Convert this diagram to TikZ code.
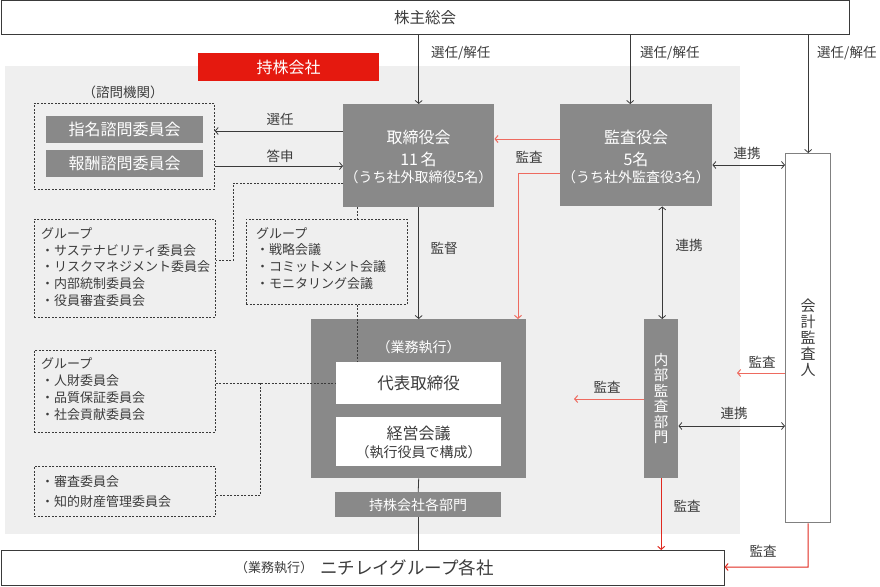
\documentclass[tikz,border=0pt]{standalone}
\usepackage{fontspec}
\setmainfont{Noto Sans CJK JP}
\usetikzlibrary{arrows.meta,calc}
\definecolor{boxgray}{HTML}{898989}
\definecolor{bggray}{HTML}{EFEFEF}
\definecolor{linecol}{HTML}{3A3A3A}
\definecolor{textcol}{HTML}{3C3C3C}
\definecolor{salmon}{HTML}{EE6A5F}
\definecolor{redline}{HTML}{E0291F}
\definecolor{redbox}{HTML}{E5190F}
\definecolor{kborder}{HTML}{808080}
\tikzset{
  gbox/.style={fill=boxgray, draw=none, inner sep=0pt, anchor=north west},
  wbox/.style={fill=white, draw=none, inner sep=0pt, anchor=north west},
  obox/.style={fill=white, draw=linecol, line width=1pt, inner sep=0pt, anchor=north west},
  dbox/.style={draw=linecol, line width=0.7pt, dash pattern=on 2pt off 1.5pt, inner sep=0pt, anchor=north west},
  dsh/.style={draw=linecol, line width=0.7pt, dash pattern=on 2pt off 1.5pt},
  tip/.tip={Straight Barb[length=3pt,width=7pt]},
  arr/.style={-tip, line width=0.8pt, draw=linecol},
  darr/.style={tip-tip, line width=0.8pt, draw=linecol},
  ln/.style={line width=0.8pt, draw=linecol},
  redarr/.style={-tip, line width=1pt, draw=salmon},
  redarrb/.style={-tip, line width=1pt, draw=redline},
  lbl/.style={text=textcol, inner sep=0pt, font=\fontsize{13.5}{15}\selectfont},
  wt/.style={text=white, inner sep=0pt, font=\fontsize{16}{18}\selectfont},
  wts/.style={text=white, inner sep=0pt, font=\fontsize{14}{16}\selectfont},
  dt/.style={text=textcol, inner sep=0pt, font=\fontsize{16}{18}\selectfont},
  gtext/.style={text=textcol, inner sep=0pt, align=left, anchor=west, font=\fontsize{13}{16.8}\selectfont},
}
\begin{document}
\begin{tikzpicture}[x=1pt,y=-1pt]
\useasboundingbox (0,0) rectangle (880,586);
% background of holding company
\fill[bggray] (5,66) rectangle (740,534);

% main boxes
\node[obox, minimum width=848pt, minimum height=34pt, text=textcol, font=\fontsize{15.5}{17}\selectfont] (sokai) at (0.5,0.5) {株主総会};
\node[fill=redbox, draw=none, inner sep=0pt, anchor=north west, minimum width=181pt, minimum height=28pt, text=white, font=\fontsize{16}{18}\selectfont] (mochi) at (198,53) {持株会社};

\node[lbl] (shimon) at (123,92) {（諮問機関）};
\node[dbox, minimum width=180pt, minimum height=86pt] (advis) at (34,103) {};
\node[gbox, minimum width=157pt, minimum height=27pt, text=white, font=\fontsize{16}{18}\selectfont] (shimei) at (46,116) {指名諮問委員会};
\node[gbox, minimum width=157pt, minimum height=27pt, text=white, font=\fontsize{16}{18}\selectfont] (hoshu) at (46,150) {報酬諮問委員会};

\node[gbox, minimum width=151pt, minimum height=103pt] (tori) at (343,104) {};
\node[wt] (toriA) at (418.5,137) {取締役会};
\node[wt] (toriB) at (418.5,159) {11\,名};
\node[wts] (toriC) at (418.5,177) {（うち社外取締役5名）};

\node[gbox, minimum width=152pt, minimum height=102pt] (kansa) at (560,104) {};
\node[wt] (kansaA) at (636,137) {監査役会};
\node[wt] (kansaB) at (636,159) {5名};
\node[wts] (kansaC) at (636,177) {（うち社外監査役3名）};

% group boxes
\node[dbox, minimum width=181pt, minimum height=98pt] (g1) at (34,219) {};
\node[gtext] (g1t) at (41,267) {グループ\\・サステナビリティ委員会\\・リスクマネジメント委員会\\・内部統制委員会\\・役員審査委員会};
\node[dbox, minimum width=161pt, minimum height=85pt] (g2) at (246,219) {};
\node[gtext] (g2t) at (256,258.5) {グループ\\・戦略会議\\・コミットメント会議\\・モニタリング会議};
\node[dbox, minimum width=181pt, minimum height=82pt] (g3) at (34,350) {};
\node[gtext] (g3t) at (41,389) {グループ\\・人財委員会\\・品質保証委員会\\・社会貢献委員会};
\node[dbox, minimum width=181pt, minimum height=50pt] (g4) at (34,466) {};
\node[gtext, font=\fontsize{13}{19.5}\selectfont] (g4t) at (41,491.5) {・審査委員会\\・知的財産管理委員会};

% execution block
\node[gbox, minimum width=215pt, minimum height=159pt] (gyomu) at (311,319) {};
\node[wts] (gyomuL) at (418.5,347) {（業務執行）};
\node[wbox, minimum width=165pt, minimum height=42pt, text=textcol, font=\fontsize{16.5}{18}\selectfont] (daihyo) at (336,362) {代表取締役};
\node[wbox, minimum width=165pt, minimum height=49pt] (keiei) at (336,417) {};
\node[dt] (keieiA) at (418.5,433) {経営会議};
\node[text=textcol, inner sep=0pt, font=\fontsize{14}{16}\selectfont] (keieiB) at (418.5,452) {（執行役員で構成）};
\node[gbox, minimum width=166pt, minimum height=25pt, text=white, font=\fontsize{14}{16}\selectfont] (kakubu) at (335,492) {持株会社各部門};

\node[gbox, minimum width=34pt, minimum height=159pt, text=white, align=center, font=\fontsize{14.5}{15.5}\selectfont] (naibu) at (644,319) {内\\部\\監\\査\\部\\門};
\node[fill=white, draw=kborder, line width=1.4pt, inner sep=0pt, anchor=north west, minimum width=45pt, minimum height=369pt, text=textcol, align=center, font=\fontsize{15}{16}\selectfont] (kaikei) at (785,153) {会\\計\\監\\査\\人};

\node[obox, minimum width=723pt, minimum height=35pt] (nichirei) at (0.5,550) {};
\node[text=textcol, inner sep=0pt, font=\fontsize{13}{15}\selectfont] (nichA) at (274,568) {（業務執行）};
\node[text=textcol, inner sep=0pt, anchor=west, font=\fontsize{17.5}{19}\selectfont] (nichB) at (320,568) {ニチレイグループ各社};

% connectors from shareholders meeting
\coordinate (kN) at ($(kansa.north)+(-6,0)$);
\draw[arr] (tori.north |- sokai.south) -- (tori.north);
\draw[arr] (kN |- sokai.south) -- (kN);
\draw[arr] (kaikei.north |- sokai.south) -- (kaikei.north);
\node[lbl, anchor=west] (s1) at (431,53) {選任/解任};
\node[lbl, anchor=west] (s2) at (640,53) {選任/解任};
\node[lbl, anchor=west] (s3) at (817,53) {選任/解任};

% advisory
\coordinate (senA) at ($(tori.north west)+(0,27)$);
\coordinate (tosA) at ($(tori.north west)+(0,62)$);
\draw[arr] (senA) -- (advis.east |- senA);
\draw[arr] (advis.east |- tosA) -- (tosA);
\node[lbl] (senL) at (280,119) {選任};
\node[lbl] (tosL) at (280,156) {答申};

% audit board to board
\coordinate (r1) at ($(kansa.north west)+(0,35)$);
\draw[redarr] (r1) -- (tori.east |- r1);
\coordinate (r2) at ($(kansa.north west)+(0,69)$);
\coordinate (r2b) at (518,173);
\draw[redarr] (r2) -- (r2b) -- (r2b |- gyomu.north);
\node[lbl] (kansaL1) at (529,157) {監査};

% supervision
\draw[arr] (tori.south) -- (tori.south |- gyomu.north);
\node[lbl] (kantoku) at (444,248) {監督};

% dashed links
\coordinate (d1) at ($(tori.north west)+(0,79)$);
\coordinate (d1b) at (233,183);
\coordinate (d1c) at (233,260);
\draw[dsh] (d1) -- (d1b) -- (d1c) -- (g1.east |- d1c);
\coordinate (d2) at ($(tori.south west)+(14,0)$);
\draw[dsh] (d2) -- (d2 |- g2.north);
\draw[dsh] (d2 |- g2.south) -- (d2 |- daihyo.north);
\draw[dsh] (g3.east |- daihyo.west) -- (daihyo.west);
\coordinate (d3b) at (260,383);
\coordinate (d3c) at (260,495);
\draw[dsh] (d3b) -- (d3c) -- (g4.east |- d3c);

% cooperation
\coordinate (l1) at ($(kansa.north east)+(0,61)$);
\draw[darr] (l1) -- (kaikei.west |- l1);
\node[lbl] (renL1) at (747,153) {連携};
\coordinate (l2) at ($(kansa.south)+(26,0)$);
\draw[darr] (l2) -- (l2 |- naibu.north);
\node[lbl] (renL2) at (689,245) {連携};
\coordinate (l3) at ($(naibu.north east)+(0,107)$);
\draw[darr] (l3) -- (kaikei.west |- l3);
\node[lbl] (renL3) at (734,413) {連携};

% internal audit
\coordinate (r3) at ($(naibu.north west)+(0,80)$);
\coordinate (r3e) at (574,399);
\draw[redarr] (r3) -- (r3e);
\node[lbl] (kansaL2) at (607,387) {監査};
\draw[redarrb] (naibu.south) -- (naibu.south |- nichirei.north);
\node[lbl] (kansaL3) at (687,506) {監査};

% accounting auditor
\coordinate (r4) at ($(kaikei.north west)+(0,220)$);
\coordinate (r4e) at (737,373);
\draw[redarr] (r4) -- (r4e);
\node[lbl] (kansaL4) at (762,362) {監査};
\coordinate (r5) at (808,567);
\draw[redarrb] (kaikei.south) -- (r5) -- (nichirei.east |- r5);
\node[lbl] (kansaL5) at (763,551) {監査};

% execution chain
\draw[ln] (gyomu.south) -- (kakubu.north);
\draw[ln] (kakubu.south) -- (kakubu.south |- nichirei.north);
\end{tikzpicture}
\end{document}
